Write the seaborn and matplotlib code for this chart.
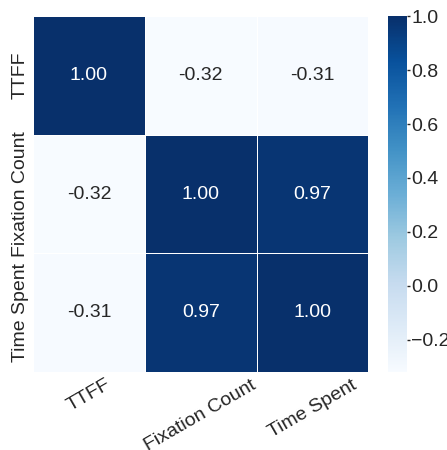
import matplotlib
matplotlib.use("Agg")
import matplotlib.pyplot as plt
import numpy as np
import pandas as pd
import seaborn as sns

labels = ["TTFF", "Fixation Count", "Time Spent"]
ttff = [1.00, -0.32, -0.31]
fixation_count = [-0.32, 1.00, 0.97]
time_spent = [-0.31, 0.97, 1.00]

corr = pd.DataFrame([ttff, fixation_count, time_spent], index=labels, columns=labels)

sns.set_theme(style="white")
plt.rcParams["font.family"] = ["Liberation Sans", "DejaVu Sans"]
plt.rcParams["text.color"] = ".15"
plt.rcParams["xtick.color"] = ".15"
plt.rcParams["ytick.color"] = ".15"

fig = plt.figure(figsize=(4.47, 4.50), dpi=100)
ax = fig.add_axes([0.074, 0.173, 0.75, 0.791])
cax = fig.add_axes([0.868, 0.173, 0.043, 0.791])

sns.heatmap(corr, ax=ax, cbar_ax=cax, cmap="Blues", annot=True, fmt=".2f",
            linewidths=0.6, linecolor="white",
            annot_kws={"fontsize": 14})

ax.tick_params(axis="both", length=0, labelsize=14, pad=3)
ax.set_xticklabels(ax.get_xticklabels(), rotation=30, ha="center")
ax.set_yticklabels(ax.get_yticklabels(), rotation=90, va="center")
cax.tick_params(labelsize=14, length=2, width=1, color=".15", pad=1)
ax.collections[0].colorbar.outline.set_visible(False)

fig.savefig("out.png", dpi=100)
